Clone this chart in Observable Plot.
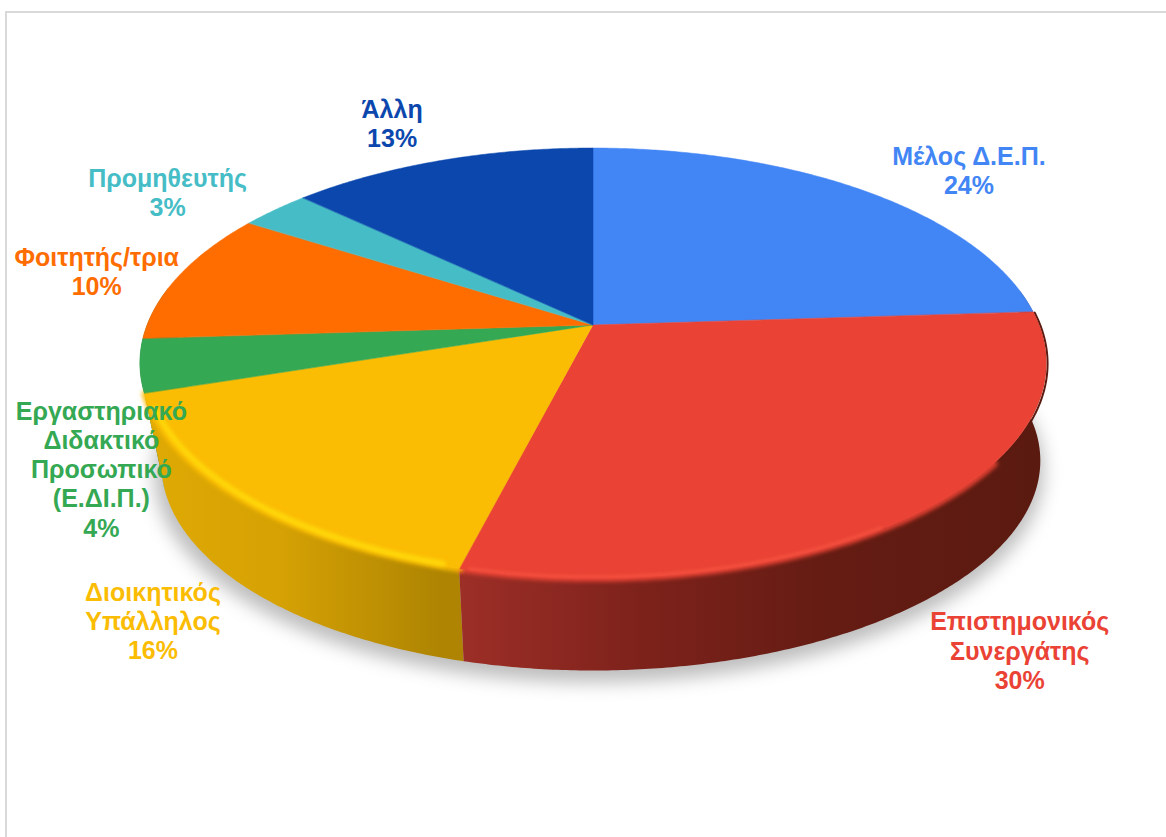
<!DOCTYPE html>
<html lang="el">
<head>
<meta charset="utf-8">
<title>Κατανομή ανά ιδιότητα</title>
<script src="https://cdn.jsdelivr.net/npm/d3@7"></script>
<script src="https://cdn.jsdelivr.net/npm/@observablehq/plot@0.6"></script>
<style>
  html, body { margin: 0; padding: 0; background: #fff; }
  #frame { position: absolute; left: 5px; top: 11px; width: 1161px; height: 826px; box-sizing: border-box;
           border-left: 2px solid #d9d9d9; border-top: 2px solid #d9d9d9; pointer-events: none; }
  #chart { position: absolute; left: 0; top: 0; }
</style>
</head>
<body>
<div id="chart"></div>
<div id="frame"></div>
<script>
// Respondent categories, clockwise from twelve o'clock.
const categories = [
  "Μέλος Δ.Ε.Π.",
  "Επιστημονικός\nΣυνεργάτης",
  "Διοικητικός\nΥπάλληλος",
  "Εργαστηριακό\nΔιδακτικό\nΠροσωπικό\n(Ε.ΔΙ.Π.)",
  "Φοιτητής/τρια",
  "Προμηθευτής",
  "Άλλη"
];
const shares = [24, 30, 16, 4, 10, 3, 13];
const colors = ["#4285f4", "#ea4335", "#fbbc04", "#34a853", "#ff6d01", "#46bdc6", "#0b47ad"];

// Label displacement from the rim point at each slice's middle angle.
const labelNudges = [[105, -21], [97, 139], [-90, 121], [-39, 103], [-83, -5], [-108, -18], [-49, -38]];

// Perspective disc: the far edge shrinks, the near edge grows.
const centre = {x: 593, y: 325};
const radii = {x: 446, y: 208.3};
const tilt = 0.177;
const thickness = {drop: 100, drift: 8, shrink: 0.97};

function rim(deg, drop = 0, scale = 1, drift = 0) {
  const t = deg * Math.PI / 180, X = Math.sin(t), Y = Math.cos(t), w = 1 + tilt * Y;
  return {x: centre.x + drift * X * X + scale * radii.x * X / w, y: centre.y + drop - scale * radii.y * Y / w};
}
function sweep(from, to) {
  const n = Math.max(2, Math.ceil((to - from) * 2));
  return d3.range(n + 1).map(i => from + (to - from) * i / n);
}

// Slice extents in degrees, accumulated from the shares.
let running = 0;
const slices = categories.map((name, i) => {
  const from = running * 3.6;
  running += shares[i];
  return {name, share: shares[i], from, to: running * 3.6, mid: (from + running * 3.6) / 2, nudge: labelNudges[i]};
});

const faceRows = slices.flatMap(s => sweep(s.from, s.to).map(a => ({name: s.name, ...rim(a), cx: centre.x, cy: centre.y})));

function wall(from, to) {
  return sweep(from, to).map(a => {
    const top = rim(a), low = rim(a, thickness.drop, thickness.shrink, thickness.drift);
    return {x1: top.x, y1: top.y, x2: low.x, y2: low.y};
  });
}
const edge = (from, to, inset = 1) => sweep(from, to).map(a => rim(a, 0, inset));
const shadow = sweep(70, 290).map(a => {
  const low = rim(a, thickness.drop + 9, thickness.shrink * 1.012, thickness.drift - 2);
  return {...low, cx: centre.x, cy: centre.y + 60};
});

const labels = slices.map(s => {
  const p = rim(s.mid);
  return {name: s.name, text: `${s.name}\n${s.share}%`, x: p.x + s.nudge[0], y: p.y + s.nudge[1]};
});

// Horizontal shading for the visible outer wall.
function gradients() {
  const defs = d3.create("svg:defs");
  const add = (id, stops) => {
    const g = defs.append("linearGradient").attr("id", id).attr("gradientUnits", "userSpaceOnUse")
      .attr("x1", 140).attr("x2", 1050).attr("y1", 0).attr("y2", 0);
    stops.forEach(([o, c]) => g.append("stop").attr("offset", o).attr("stop-color", c));
  };
  add("wall-red", [[0.33, "#a03028"], [0.55, "#7d221b"], [0.75, "#651c13"], [1, "#5a1a10"]]);
  add("wall-yellow", [[0, "#e0aa04"], [0.15, "#d6a204"], [0.33, "#ae8402"]]);
  add("wall-green", [[0, "#227038"], [1, "#227038"]]);
  return defs.node();
}

const [blue, red, yellow, green, orange] = slices;

const chart = Plot.plot({
  width: 1166,
  height: 837,
  margin: 0,
  style: {background: "transparent", fontFamily: "'Liberation Sans', Arial, sans-serif"},
  x: {domain: [0, 1166], range: [0, 1166], axis: null},
  y: {domain: [0, 837], range: [0, 837], axis: null},
  color: {domain: categories, range: colors},
  marks: [
    gradients,
    // soft cast shadow under the disc
    Plot.area(shadow, {x1: "cx", y1: "cy", x2: "x", y2: "y", fill: "#000", fillOpacity: 0.26, imageFilter: "blur(9px)"}),
    // outer wall
    Plot.area(wall(green.from, orange.from + 14), {x1: "x1", y1: "y1", x2: "x2", y2: "y2", fill: "url(#wall-green)"}),
    Plot.area(wall(yellow.from, yellow.to), {x1: "x1", y1: "y1", x2: "x2", y2: "y2", fill: "url(#wall-yellow)"}),
    Plot.area(wall(red.from - 6, red.to), {x1: "x1", y1: "y1", x2: "x2", y2: "y2", fill: "url(#wall-red)"}),
    // dark sliver of wall showing on the far right
    Plot.line(edge(red.from, red.from + 40, 1.002), {x: "x", y: "y", stroke: "#5a1a10", strokeWidth: 2}),
    // blurred bevel between wall and face
    Plot.line(edge(red.from + 40, red.to), {x: "x", y: "y", stroke: colors[1], strokeWidth: 6, imageFilter: "blur(2px)"}),
    Plot.line(edge(yellow.from, yellow.to), {x: "x", y: "y", stroke: colors[2], strokeWidth: 6, imageFilter: "blur(2px)"}),
    // top face
    Plot.area(faceRows, {x1: "cx", y1: "cy", x2: "x", y2: "y", z: "name", fill: "name", stroke: "name", strokeWidth: 0.5}),
    // catch light along the near rim
    Plot.line(edge(yellow.from + 2, yellow.to - 4, 0.99), {x: "x", y: "y", stroke: "#ffdc0a", strokeWidth: 5, imageFilter: "blur(2px)"}),
    Plot.line(edge(red.from + 60, red.to - 1, 0.993), {x: "x", y: "y", stroke: "#f4503f", strokeWidth: 3, imageFilter: "blur(1.5px)"}),
    // category labels
    Plot.text(labels, {
      x: "x", y: "y", text: "text", fill: "name",
      fontSize: 25, fontWeight: "bold", lineHeight: 1.17, textAnchor: "middle"
    })
  ]
});
document.getElementById("chart").append(chart);
</script>
</body>
</html>
